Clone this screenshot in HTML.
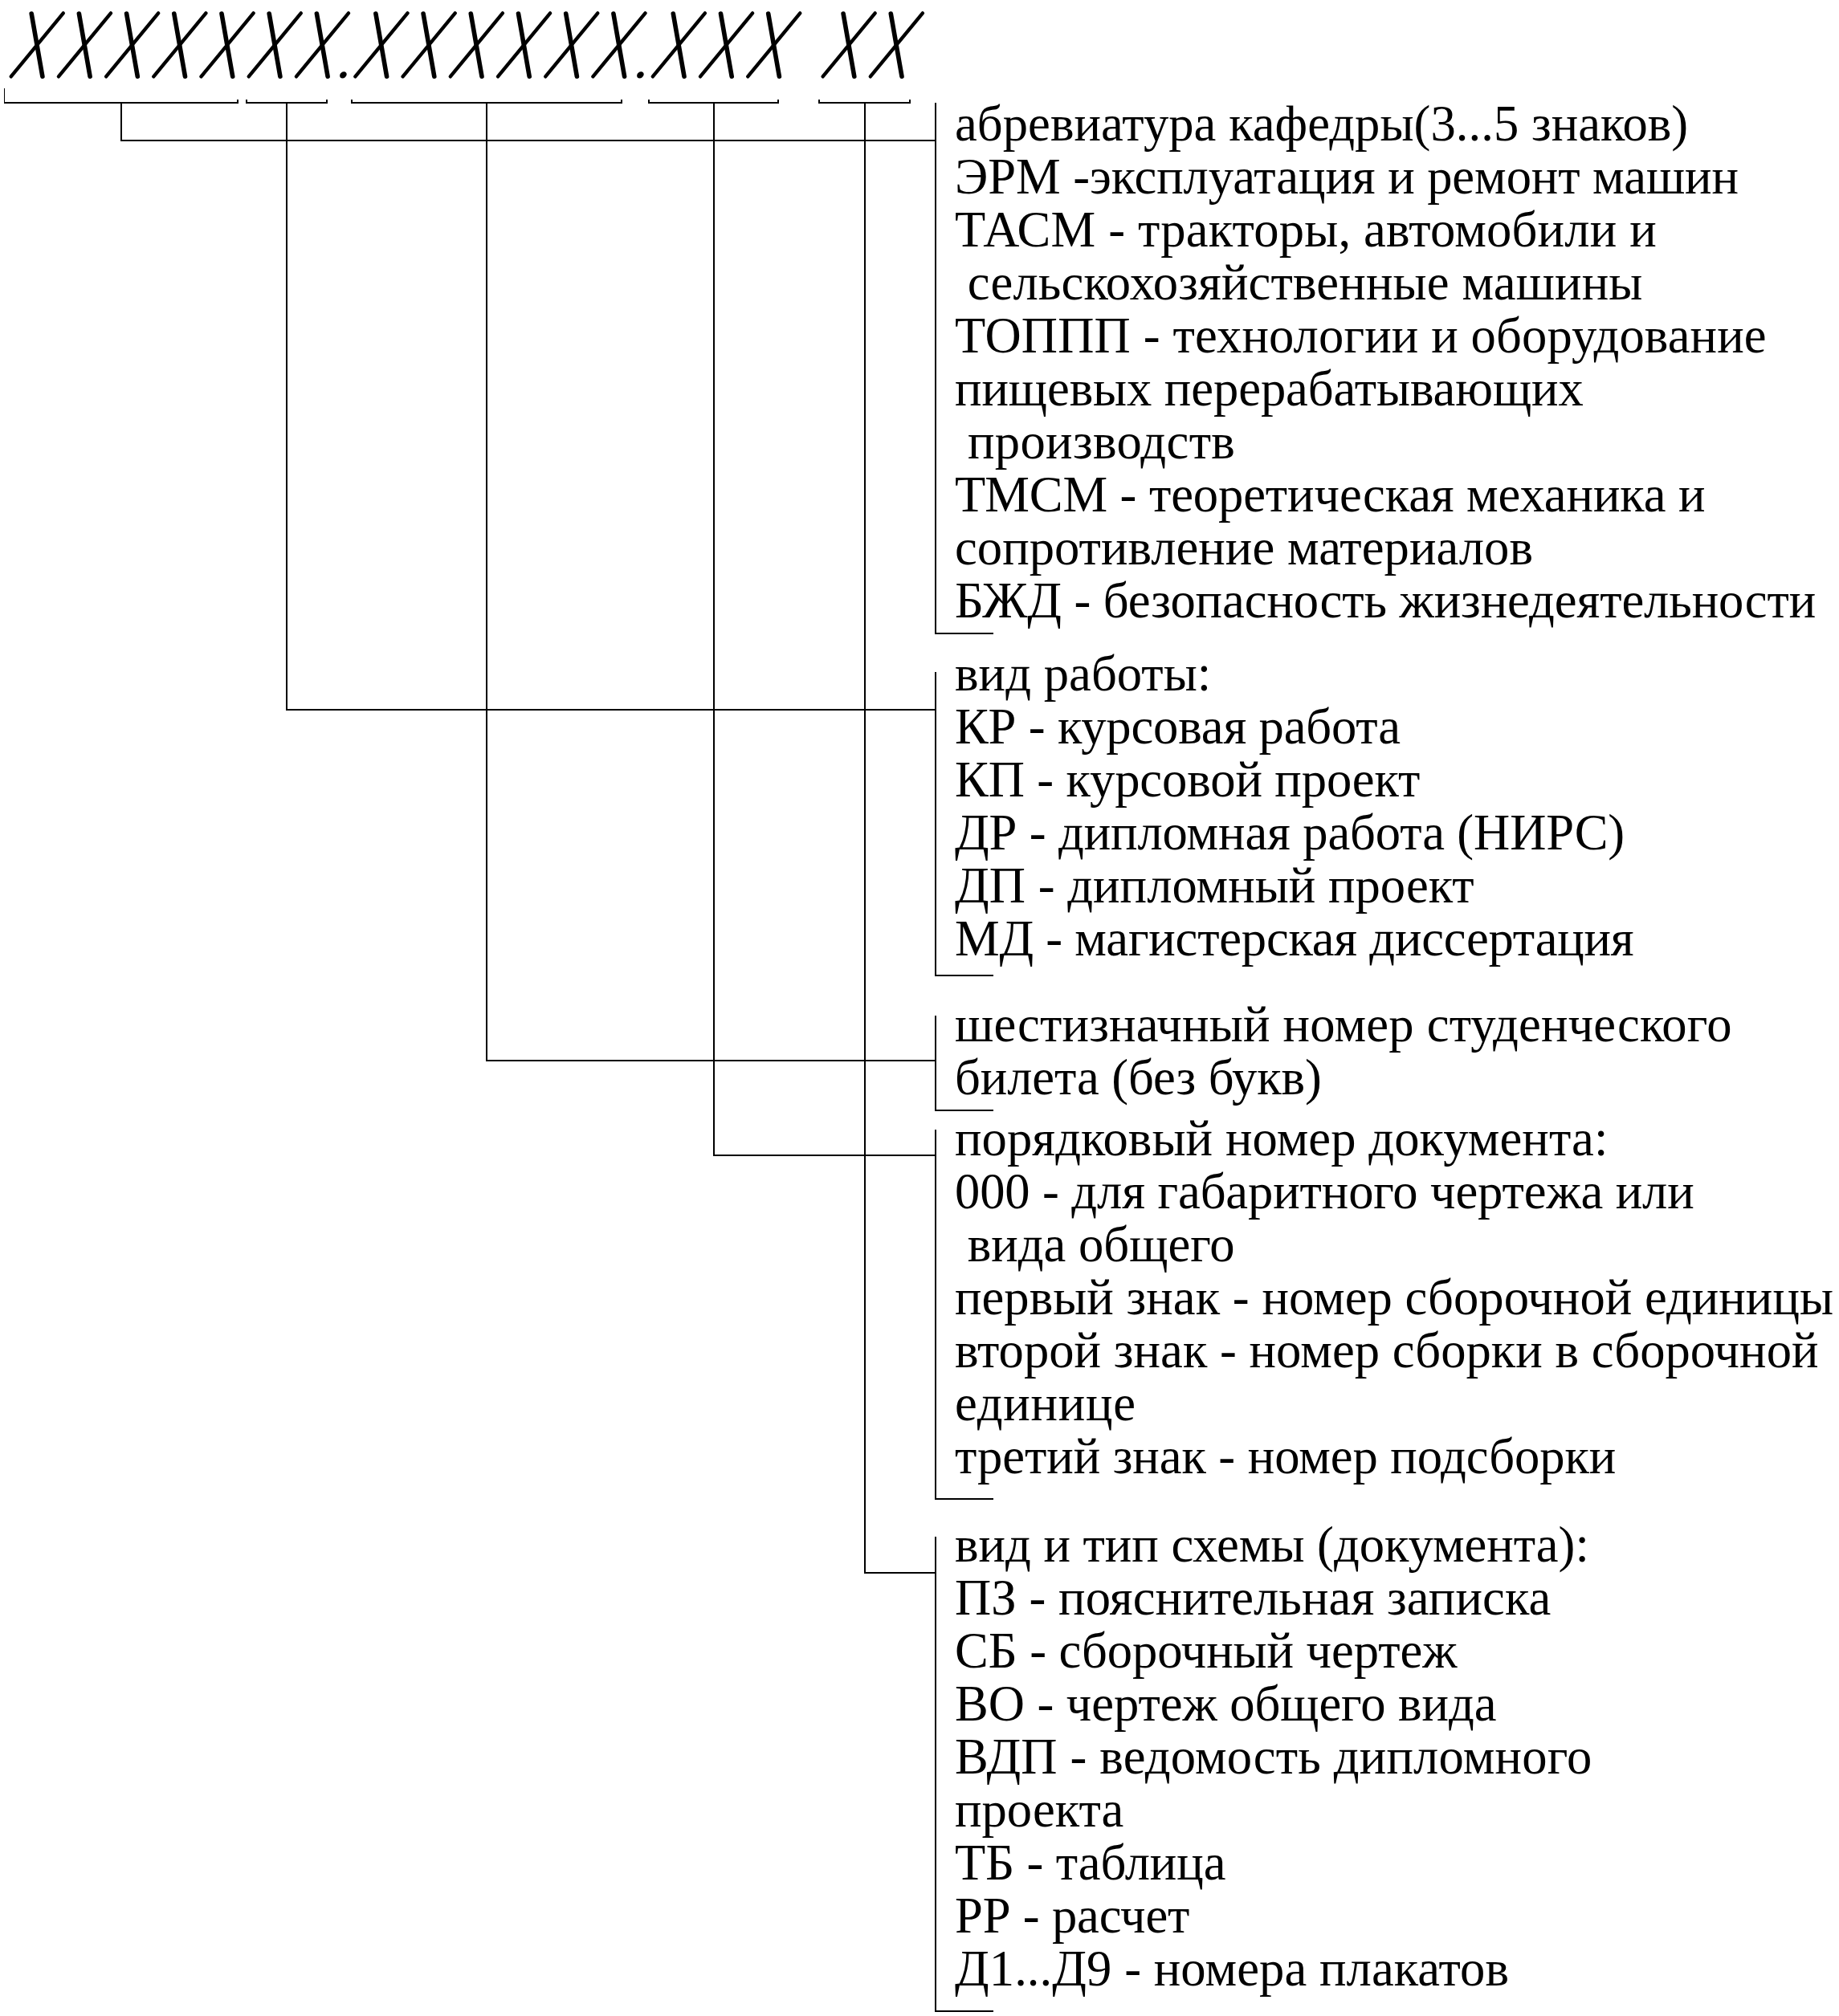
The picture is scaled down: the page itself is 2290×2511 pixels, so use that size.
<!DOCTYPE html>
<html><head><meta charset="utf-8"><style>
html,body{margin:0;padding:0;background:#fff;}
body{width:2290px;height:2511px;overflow:hidden;}
svg{display:block;}
text{font-family:"Liberation Serif",serif;font-size:62.6px;fill:#000;white-space:pre;}
</style></head><body>
<svg width="2290" height="2511" viewBox="0 0 2290 2511">
<rect width="2290" height="2511" fill="#fff"/>
<g fill="#000" shape-rendering="crispEdges">
<rect x="5" y="127" width="292" height="2"/>
<rect x="5" y="110" width="1" height="19"/>
<rect x="295" y="124" width="2" height="5"/>
<rect x="306" y="127" width="102" height="2"/>
<rect x="306" y="124" width="2" height="5"/>
<rect x="406" y="124" width="2" height="5"/>
<rect x="437" y="127" width="338" height="2"/>
<rect x="437" y="124" width="2" height="5"/>
<rect x="773" y="124" width="2" height="5"/>
<rect x="807" y="127" width="163" height="2"/>
<rect x="807" y="124" width="2" height="5"/>
<rect x="968" y="124" width="2" height="5"/>
<rect x="1019" y="127" width="115" height="2"/>
<rect x="1019" y="124" width="2" height="5"/>
<rect x="1132" y="124" width="2" height="5"/>
<rect x="150" y="127" width="2" height="49"/>
<rect x="150" y="174" width="1016" height="2"/>
<rect x="356" y="127" width="2" height="758"/>
<rect x="356" y="883" width="810" height="2"/>
<rect x="605" y="127" width="2" height="1195"/>
<rect x="605" y="1320" width="561" height="2"/>
<rect x="888" y="127" width="2" height="1313"/>
<rect x="888" y="1438" width="278" height="2"/>
<rect x="1076" y="127" width="2" height="1833"/>
<rect x="1076" y="1958" width="90" height="2"/>
<rect x="1164" y="128" width="2" height="662"/>
<rect x="1164" y="788" width="73" height="2"/>
<rect x="1164" y="837" width="2" height="379"/>
<rect x="1164" y="1214" width="73" height="2"/>
<rect x="1164" y="1265" width="2" height="119"/>
<rect x="1164" y="1382" width="73" height="2"/>
<rect x="1164" y="1407" width="2" height="461"/>
<rect x="1164" y="1866" width="73" height="2"/>
<rect x="1164" y="1914" width="2" height="592"/>
<rect x="1164" y="2504" width="73" height="2"/>
</g>
<g stroke="#000" fill="none">
<line x1="39.20" y1="17.00" x2="52.90" y2="95.20" stroke-width="5.6" stroke-linecap="round"/>
<line x1="78.80" y1="16.40" x2="13.70" y2="95.40" stroke-width="4.4" stroke-linecap="round"/>
<line x1="98.40" y1="17.00" x2="112.10" y2="95.20" stroke-width="5.6" stroke-linecap="round"/>
<line x1="138.00" y1="16.40" x2="72.90" y2="95.40" stroke-width="4.4" stroke-linecap="round"/>
<line x1="157.60" y1="17.00" x2="171.30" y2="95.20" stroke-width="5.6" stroke-linecap="round"/>
<line x1="197.20" y1="16.40" x2="132.10" y2="95.40" stroke-width="4.4" stroke-linecap="round"/>
<line x1="216.80" y1="17.00" x2="230.50" y2="95.20" stroke-width="5.6" stroke-linecap="round"/>
<line x1="256.40" y1="16.40" x2="191.30" y2="95.40" stroke-width="4.4" stroke-linecap="round"/>
<line x1="276.00" y1="17.00" x2="289.70" y2="95.20" stroke-width="5.6" stroke-linecap="round"/>
<line x1="315.60" y1="16.40" x2="250.50" y2="95.40" stroke-width="4.4" stroke-linecap="round"/>
<line x1="335.20" y1="17.00" x2="348.90" y2="95.20" stroke-width="5.6" stroke-linecap="round"/>
<line x1="374.80" y1="16.40" x2="309.70" y2="95.40" stroke-width="4.4" stroke-linecap="round"/>
<line x1="394.40" y1="17.00" x2="408.10" y2="95.20" stroke-width="5.6" stroke-linecap="round"/>
<line x1="434.00" y1="16.40" x2="368.90" y2="95.40" stroke-width="4.4" stroke-linecap="round"/>
<line x1="467.90" y1="17.00" x2="481.60" y2="95.20" stroke-width="5.6" stroke-linecap="round"/>
<line x1="507.50" y1="16.40" x2="442.40" y2="95.40" stroke-width="4.4" stroke-linecap="round"/>
<line x1="527.10" y1="17.00" x2="540.80" y2="95.20" stroke-width="5.6" stroke-linecap="round"/>
<line x1="566.70" y1="16.40" x2="501.60" y2="95.40" stroke-width="4.4" stroke-linecap="round"/>
<line x1="586.30" y1="17.00" x2="600.00" y2="95.20" stroke-width="5.6" stroke-linecap="round"/>
<line x1="625.90" y1="16.40" x2="560.80" y2="95.40" stroke-width="4.4" stroke-linecap="round"/>
<line x1="645.50" y1="17.00" x2="659.20" y2="95.20" stroke-width="5.6" stroke-linecap="round"/>
<line x1="685.10" y1="16.40" x2="620.00" y2="95.40" stroke-width="4.4" stroke-linecap="round"/>
<line x1="704.70" y1="17.00" x2="718.40" y2="95.20" stroke-width="5.6" stroke-linecap="round"/>
<line x1="744.30" y1="16.40" x2="679.20" y2="95.40" stroke-width="4.4" stroke-linecap="round"/>
<line x1="763.90" y1="17.00" x2="777.60" y2="95.20" stroke-width="5.6" stroke-linecap="round"/>
<line x1="803.50" y1="16.40" x2="738.40" y2="95.40" stroke-width="4.4" stroke-linecap="round"/>
<line x1="838.30" y1="17.00" x2="852.00" y2="95.20" stroke-width="5.6" stroke-linecap="round"/>
<line x1="877.90" y1="16.40" x2="812.80" y2="95.40" stroke-width="4.4" stroke-linecap="round"/>
<line x1="897.50" y1="17.00" x2="911.20" y2="95.20" stroke-width="5.6" stroke-linecap="round"/>
<line x1="937.10" y1="16.40" x2="872.00" y2="95.40" stroke-width="4.4" stroke-linecap="round"/>
<line x1="956.70" y1="17.00" x2="970.40" y2="95.20" stroke-width="5.6" stroke-linecap="round"/>
<line x1="996.30" y1="16.40" x2="931.20" y2="95.40" stroke-width="4.4" stroke-linecap="round"/>
<line x1="1050.10" y1="17.00" x2="1063.80" y2="95.20" stroke-width="5.6" stroke-linecap="round"/>
<line x1="1089.70" y1="16.40" x2="1024.60" y2="95.40" stroke-width="4.4" stroke-linecap="round"/>
<line x1="1109.30" y1="17.00" x2="1123.00" y2="95.20" stroke-width="5.6" stroke-linecap="round"/>
<line x1="1148.90" y1="16.40" x2="1083.80" y2="95.40" stroke-width="4.4" stroke-linecap="round"/>
<ellipse cx="427.4" cy="93.4" rx="4.7" ry="3.7" transform="rotate(-40 427.4 93.4)" fill="#000" stroke="none"/>
<ellipse cx="797.4" cy="93.4" rx="4.7" ry="3.7" transform="rotate(-40 797.4 93.4)" fill="#000" stroke="none"/>
</g>
<g xml:space="preserve">
<text x="1189.0" y="175.30" textLength="913.21" lengthAdjust="spacing">абревиатура кафедры(3...5 знаков)</text>
<text x="1189.0" y="241.30" textLength="975.98" lengthAdjust="spacing">ЭРМ -эксплуатация и ремонт машин</text>
<text x="1189.0" y="307.30" textLength="873.66" lengthAdjust="spacing">ТАСМ - тракторы, автомобили и</text>
<text x="1189.0" y="373.30" textLength="856.35" lengthAdjust="spacing"> сельскохозяйственные машины</text>
<text x="1189.0" y="439.30" textLength="1010.64" lengthAdjust="spacing">ТОППП - технологии и оборудование</text>
<text x="1189.0" y="505.30" textLength="782.76" lengthAdjust="spacing">пищевых перерабатывающих</text>
<text x="1189.0" y="571.30" textLength="348.92" lengthAdjust="spacing"> производств</text>
<text x="1189.0" y="637.30" textLength="934.38" lengthAdjust="spacing">ТМСМ - теоретическая механика и</text>
<text x="1189.0" y="703.30" textLength="719.98" lengthAdjust="spacing">сопротивление материалов</text>
<text x="1189.0" y="769.30" textLength="1072.33" lengthAdjust="spacing">БЖД - безопасность жизнедеятельности</text>
<text x="1189.0" y="859.60" textLength="319.25" lengthAdjust="spacing">вид работы:</text>
<text x="1189.0" y="925.60" textLength="555.06" lengthAdjust="spacing">КР - курсовая работа</text>
<text x="1189.0" y="991.60" textLength="579.34" lengthAdjust="spacing">КП - курсовой проект</text>
<text x="1189.0" y="1057.60" textLength="834.13" lengthAdjust="spacing">ДР - дипломная работа (НИРС)</text>
<text x="1189.0" y="1123.60" textLength="646.71" lengthAdjust="spacing">ДП - дипломный проект</text>
<text x="1189.0" y="1189.60" textLength="845.64" lengthAdjust="spacing">МД - магистерская диссертация</text>
<text x="1189.0" y="1296.80" textLength="967.43" lengthAdjust="spacing">шестизначный номер студенческого</text>
<text x="1189.0" y="1362.80" textLength="456.88" lengthAdjust="spacing">билета (без букв)</text>
<text x="1189.0" y="1438.70" textLength="813.38" lengthAdjust="spacing">порядковый номер документа:</text>
<text x="1189.0" y="1504.70" textLength="920.72" lengthAdjust="spacing">000 - для габаритного чертежа или</text>
<text x="1189.0" y="1570.70" textLength="348.62" lengthAdjust="spacing"> вида общего</text>
<text x="1189.0" y="1636.70" textLength="1093.97" lengthAdjust="spacing">первый знак - номер сборочной единицы</text>
<text x="1189.0" y="1702.70" textLength="1075.45" lengthAdjust="spacing">второй знак - номер сборки в сборочной</text>
<text x="1189.0" y="1768.70" textLength="224.98" lengthAdjust="spacing">единице</text>
<text x="1189.0" y="1834.70" textLength="823.34" lengthAdjust="spacing">третий знак - номер подсборки</text>
<text x="1189.0" y="1945.20" textLength="789.80" lengthAdjust="spacing">вид и тип схемы (документа):</text>
<text x="1189.0" y="2011.20" textLength="742.22" lengthAdjust="spacing">ПЗ - пояснительная записка</text>
<text x="1189.0" y="2077.20" textLength="625.40" lengthAdjust="spacing">СБ - сборочный чертеж</text>
<text x="1189.0" y="2143.20" textLength="674.53" lengthAdjust="spacing">ВО - чертеж общего вида</text>
<text x="1189.0" y="2209.20" textLength="793.21" lengthAdjust="spacing">ВДП - ведомость дипломного</text>
<text x="1189.0" y="2275.20" textLength="210.33" lengthAdjust="spacing">проекта</text>
<text x="1189.0" y="2341.20" textLength="337.43" lengthAdjust="spacing">ТБ - таблица</text>
<text x="1189.0" y="2407.20" textLength="292.40" lengthAdjust="spacing">РР - расчет</text>
<text x="1189.0" y="2473.20" textLength="690.03" lengthAdjust="spacing">Д1...Д9 - номера плакатов</text>
</g>
</svg>
</body></html>
